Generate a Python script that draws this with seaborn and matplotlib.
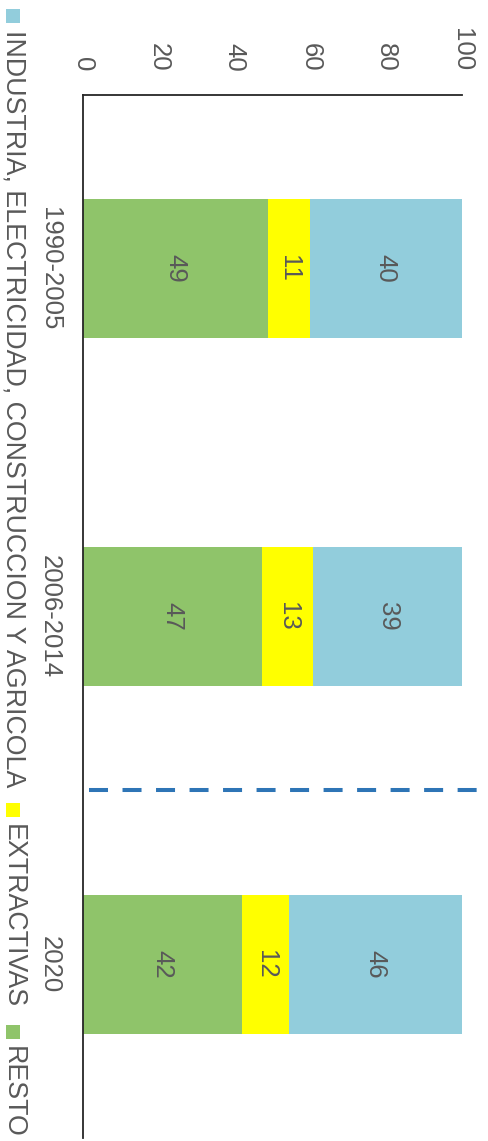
import numpy as np
import pandas as pd
import matplotlib
matplotlib.use("Agg")
import matplotlib.pyplot as plt
from matplotlib.patches import Rectangle
import seaborn as sns

periods = ["1990-2005", "2006-2014", "2020"]
resto = [48.9, 47.3, 42.0]
extractivas = [10.9, 13.4, 12.4]
industria = [40.2, 39.3, 45.6]
series_names = ["INDUSTRIA, ELECTRICIDAD, CONSTRUCCION Y AGRICOLA", "EXTRACTIVAS", "RESTO"]
series_colors = ["#92CDDC", "#FFFF00", "#8FC46A"]
value_ticks = [0, 20, 40, 60, 80, 100]

sns.set_theme(style="white")
plt.rcParams["font.family"] = ["Liberation Sans", "DejaVu Sans"]
TXT = "#595959"
FS = 18.5

W, H = 489, 1141
fig = plt.figure(figsize=(W / 100, H / 100), dpi=100)
ax = fig.add_axes([83 / W, 1 - 1138 / H, 379 / W, (1138 - 95) / H])

df = pd.DataFrame({"period": periods, "resto": resto,
                   "extractivas": extractivas, "industria": industria})
df["c1"] = df["resto"]
df["c2"] = df["resto"] + df["extractivas"]
df["c3"] = df["c2"] + df["industria"]

# overlapping cumulative bars to form the stack
sns.barplot(data=df, x="c3", y="period", orient="h", color=series_colors[0],
            width=0.4, saturation=1, ax=ax)
sns.barplot(data=df, x="c2", y="period", orient="h", color=series_colors[1],
            width=0.4, saturation=1, ax=ax)
sns.barplot(data=df, x="c1", y="period", orient="h", color=series_colors[2],
            width=0.4, saturation=1, ax=ax)
for p in ax.patches:
    p.set_edgecolor("none")

# segment labels
for i in range(len(periods)):
    segs = [(0, df["c1"][i], df["resto"][i]),
            (df["c1"][i], df["c2"][i], df["extractivas"][i]),
            (df["c2"][i], df["c3"][i], df["industria"][i])]
    for a, b, v in segs:
        ax.text((a + b) / 2, i, f"{round(v):d}", rotation=-90, ha="center",
                va="center", color=TXT, fontsize=FS)

# dashed separator between 2006-2014 and 2020
ax.plot([1.6, 105.0], [1.5, 1.5], color="#2E75B6", lw=2.9,
        dashes=(4.72, 3.6), clip_on=False, solid_capstyle="butt")

ax.set_xlim(0, 100)
ax.set_ylim(2.5, -0.5)
ax.set_xlabel("")
ax.set_ylabel("")
ax.xaxis.tick_top()
ax.set_xticks(value_ticks)
ax.set_xticklabels([str(t) for t in value_ticks], rotation=-90, color=TXT,
                   fontsize=FS, va="bottom", ha="center")
ax.set_yticks(range(len(periods)))
ax.set_yticklabels(periods, rotation=-90, color=TXT, fontsize=FS,
                   va="center", ha="right")
ax.tick_params(axis="x", length=0, pad=17)
ax.tick_params(axis="y", length=0, pad=15)
for s in ["right", "bottom"]:
    ax.spines[s].set_visible(False)
for s in ["left", "top"]:
    ax.spines[s].set_visible(True)
    ax.spines[s].set_color("#262626")
    ax.spines[s].set_linewidth(1.3)

# vertical legend along the left edge
fig.canvas.draw()
renderer = fig.canvas.get_renderer()
y = 9.0
xc = 13.0
msize = 14.0
for name, col in zip(series_names, series_colors):
    fig.patches.append(Rectangle(((xc - msize / 2) / W, 1 - (y + msize) / H),
                                 msize / W, msize / H, transform=fig.transFigure,
                                 facecolor=col, edgecolor="none"))
    y += msize + 7
    t = fig.text(xc / W, 1 - y / H, name, rotation=-90, ha="center", va="top",
                 color=TXT, fontsize=19.3)
    bb = t.get_window_extent(renderer)
    y += bb.height + 16

fig.savefig("out.png", dpi=100)
